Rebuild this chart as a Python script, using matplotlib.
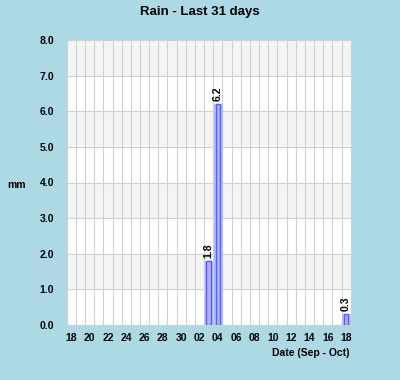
import matplotlib
matplotlib.use("Agg")
import matplotlib.pyplot as plt
import numpy as np

days = ["18","19","20","21","22","23","24","25","26","27","28","29","30",
        "01","02","03","04","05","06","07","08","09","10","11","12","13","14","15","16","17","18"]
rain = [0,0,0,0,0,0,0,0,0,0,0,0,0,
        0,0,1.8,6.2,0,0,0,0,0,0,0,0,0,0,0,0,0,0.3]
yticks = [0,1,2,3,4,5,6,7,8]

plt.rcParams['font.family'] = ['Liberation Sans', 'DejaVu Sans']
bg = '#add8e6'
fig = plt.figure(figsize=(4.0, 3.8), dpi=100, facecolor=bg)
ax = fig.add_axes([66.7/400, 1-325/380, 284/400, 285/380])
ax.set_facecolor('white')
n = len(days)
ax.set_xlim(0, n)
ax.set_ylim(0, 8)

# alternating bands
for i in range(8):
    if i % 2 == 1:
        ax.axhspan(i, i+1, color='#f4f4f4', zorder=0, lw=0)
for y in yticks:
    ax.axhline(y, color='#d0d0d0', lw=0.8, zorder=1)
for x in range(n+1):
    ax.axvline(x, color='#d0d0d0', lw=0.8, zorder=1)

xs = np.arange(n) + 0.5
vals = np.array(rain)
mask = vals > 0
ax.bar(xs[mask], vals[mask], width=0.82, color='#a8c8ff', edgecolor='#a8c8ff', lw=0.8, zorder=3)
ax.bar(xs[mask], vals[mask], width=0.5, color='#b0b0ff', edgecolor='#5a5aff', lw=1.0, zorder=4)
for x, v in zip(xs[mask], vals[mask]):
    ax.text(x, v + 0.08, f"{v:.1f}", rotation=90, ha='center', va='bottom',
            fontsize=7.5, fontweight='bold', color='black', zorder=5)

ax.set_xticks(xs[::2])
ax.set_xticklabels(days[::2], fontsize=7.5, fontweight='bold')
ax.set_yticks(yticks)
ax.set_yticklabels([f"{y:.1f}" for y in yticks], fontsize=7.5, fontweight='bold')
ax.tick_params(length=0, pad=6)
ax.tick_params(axis='y', pad=9)
for s in ax.spines.values():
    s.set_color('#d0d0d0')
    s.set_linewidth(0.8)

fig.text(200/400, 1-12/380, "Rain - Last 31 days", ha='center', va='center',
         fontsize=9.5, fontweight='bold')
fig.text(17/400, 1-185/380, "mm", ha='center', va='center', fontsize=7.5, fontweight='bold')
fig.text(350/400, 1-353/380, "Date (Sep - Oct)", ha='right', va='center',
         fontsize=7.5, fontweight='bold')

fig.savefig("out.png", dpi=100, facecolor=bg)
